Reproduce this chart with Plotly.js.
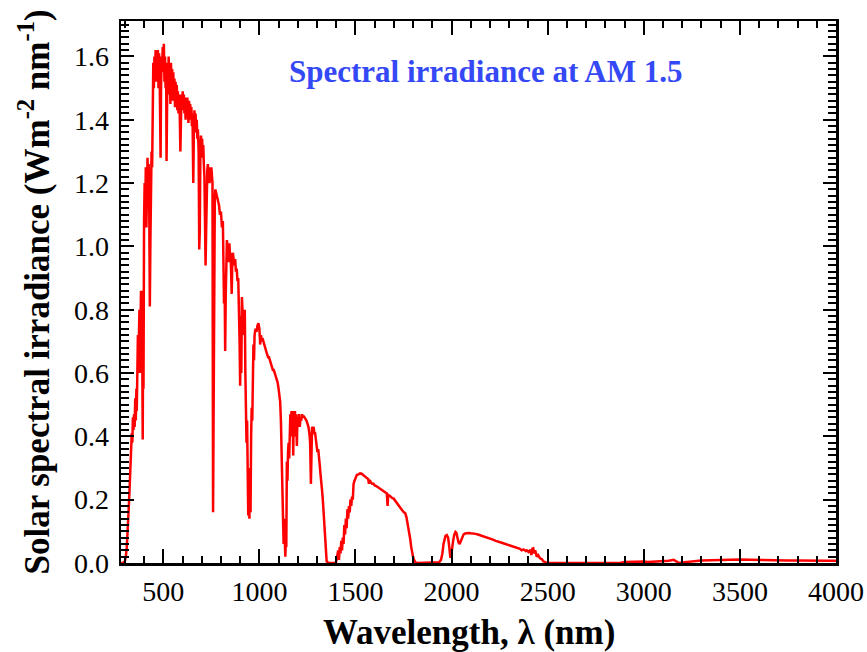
<!DOCTYPE html>
<html>
<head>
<meta charset="utf-8">
<script src="https://cdn.plot.ly/plotly-3.0.1.min.js"></script>
<style>html,body{margin:0;padding:0;background:#fff;}#chart{width:867px;height:652px;}</style>
</head>
<body>
<div id="chart"></div>
<script>
// Wavelength (nm)
const wavelength = [
280,290,300,305,310,315,320,325,330,333,336,339,342,345,348,351,354,357,360,362,364,366,368,370,372,374,376,378,380,382,384,386,388,390,393,395,397,
400,403,406,409,412,415,418,421,424,427,430,433,436,439,442,445,448,451,454,457,460,463,466,469,472,475,478,481,484,486,488,491,494,497,
500,503,506,509,512,515,517,519,522,525,528,531,534,537,540,543,546,549,552,555,558,561,564,567,570,573,576,579,582,585,589,592,595,598,
601,604,607,610,613,616,619,622,625,628,631,634,637,640,643,646,649,652,656,659,662,665,668,671,674,677,680,684,687,690,693,696,699,
702,705,708,711,714,717,720,723,726,729,732,735,738,741,744,747,750,753,756,759,762,765,768,771,775,780,785,790,795,
800,805,810,813,816,819,822,825,828,831,835,838,841,844,847,850,853,856,859,862,866,870,874,878,882,886,890,894,897,
900,903,906,909,912,915,918,921,924,927,930,933,936,939,942,945,948,951,954,957,960,963,966,969,972,975,980,985,990,995,
1000,1004,1008,1012,1016,1020,1025,1030,1035,1040,1045,1050,1055,1060,1065,1070,1075,1080,1085,1090,1095,
1100,1104,1108,1112,1116,1120,1123,1126,1129,1132,1135,1138,1140,1143,1146,1149,1152,1155,1158,1161,1164,1167,1170,1173,1176,1179,1182,1185,1188,1191,1195,1198,
1202,1206,1210,1214,1218,1222,1226,1230,1235,1240,1245,1250,1255,1260,1264,1268,1271,1274,1278,1282,1286,1290,1294,1298,
1302,1306,1310,1314,1318,1322,1326,1330,1334,1338,1342,1346,1350,1360,1380,1395,
1400,1405,1410,1414,1418,1422,1426,1430,1434,1438,1442,1446,1450,1454,1458,1462,1466,1470,1474,1478,1482,1486,1490,1495,
1500,1507,1515,1524,1532,1540,1550,1558,1566,1570,1574,1580,1587,1594,
1600,1608,1615,1622,1628,1635,1642,1650,1656,1663,1667,1670,1678,1685,1692,1698,
1705,1712,1720,1727,1733,1740,1746,1752,1759,1765,1770,1776,1781,1785,1790,1795,
1800,1806,1812,1820,1850,1880,1910,1935,1945,1952,1958,1963,1968,1975,1982,1988,1993,1997,
2002,2008,2014,2020,2025,2030,2036,2042,2048,2055,2062,2070,2078,2090,
2100,2113,2125,2137,2148,2160,2175,2190,2200,2215,2230,2245,2252,2265,2280,2295,
2304,2318,2330,2340,2356,2365,2375,2385,2391,2400,2410,2415,2420,2425,2430,2435,2443,2450,2460,2470,2478,2490,
2500,2600,2700,2800,2880,2900,2950,3000,3020,3060,3100,3130,3155,3170,3185,3200,3230,3270,
3300,3350,3415,3460,3502,3550,3600,3650,3700,3750,3800,3850,3900,3950,4000
];

// Spectral irradiance (W m^-2 nm^-1)
const irradiance = [
0,0,0.005,0.02,0.05,0.10,0.17,0.24,0.31,0.36,0.41,0.38,0.46,0.42,0.47,0.43,0.52,0.45,0.55,0.48,0.58,0.50,0.72,0.62,0.78,0.66,0.80,0.60,0.84,0.70,0.86,0.78,0.86,0.74,0.39,0.70,0.55,
1.08,1.20,1.10,1.25,1.06,1.22,1.28,1.15,1.26,1.12,0.81,1.02,1.22,1.30,1.25,1.45,1.58,1.50,1.60,1.55,1.62,1.52,1.60,1.56,1.62,1.50,1.61,1.55,1.45,1.28,1.48,1.60,1.55,1.63,
1.58,1.64,1.52,1.60,1.50,1.57,1.27,1.40,1.58,1.50,1.60,1.48,1.56,1.45,1.58,1.50,1.56,1.46,1.55,1.47,1.53,1.44,1.52,1.46,1.51,1.43,1.49,1.42,1.48,1.44,1.30,1.40,1.48,1.44,
1.49,1.43,1.48,1.42,1.47,1.40,1.46,1.41,1.47,1.43,1.39,1.46,1.42,1.45,1.40,1.44,1.38,1.42,1.20,1.36,1.43,1.38,1.42,1.36,1.40,1.34,1.37,1.30,0.99,1.05,1.30,1.35,1.33,
1.34,1.28,1.32,1.26,1.22,1.08,0.94,1.05,1.18,1.24,1.26,1.22,1.25,1.20,1.24,1.22,1.25,1.23,1.20,0.16,0.50,0.95,1.15,1.18,1.17,1.16,1.15,1.13,1.10,
1.11,1.06,1.08,0.95,0.82,0.90,0.67,0.85,0.98,1.02,0.99,1.01,0.95,1.01,0.97,0.98,0.92,0.85,0.95,0.98,0.96,0.94,0.96,0.92,0.93,0.89,0.90,0.82,0.70,
0.56,0.78,0.60,0.84,0.80,0.72,0.79,0.72,0.80,0.60,0.47,0.38,0.45,0.20,0.15,0.30,0.14,0.25,0.16,0.40,0.49,0.45,0.63,0.69,0.64,0.72,0.74,0.73,0.75,0.757,
0.74,0.69,0.72,0.70,0.71,0.70,0.69,0.68,0.67,0.66,0.65,0.65,0.64,0.63,0.62,0.61,0.61,0.60,0.59,0.58,0.57,
0.55,0.53,0.51,0.45,0.33,0.20,0.10,0.06,0.14,0.04,0.02,0.08,0.05,0.32,0.26,0.35,0.38,0.33,0.44,0.47,0.40,0.48,0.42,0.48,0.34,0.48,0.44,0.48,0.40,0.47,0.37,0.46,
0.44,0.47,0.43,0.46,0.45,0.47,0.46,0.465,0.46,0.455,0.45,0.44,0.43,0.41,0.38,0.25,0.38,0.43,0.42,0.43,0.41,0.41,0.39,0.37,
0.35,0.36,0.32,0.31,0.28,0.26,0.23,0.20,0.16,0.12,0.08,0.03,0.005,0,0,0,
0.005,0.02,0.04,0.01,0.05,0.03,0.07,0.04,0.08,0.06,0.12,0.09,0.14,0.11,0.17,0.14,0.18,0.16,0.20,0.18,0.21,0.20,0.25,0.26,
0.27,0.278,0.28,0.283,0.282,0.278,0.273,0.27,0.265,0.25,0.262,0.255,0.25,0.25,
0.245,0.243,0.24,0.238,0.236,0.232,0.23,0.226,0.222,0.22,0.18,0.215,0.212,0.208,0.205,0.204,
0.198,0.19,0.183,0.177,0.172,0.168,0.164,0.16,0.157,0.145,0.13,0.104,0.09,0.075,0.05,0.03,
0.018,0.008,0.002,0,0,0,0,0.002,0.01,0.03,0.06,0.08,0.085,0.088,0.08,0.05,0.02,0.02,
0.05,0.07,0.09,0.098,0.095,0.08,0.065,0.06,0.07,0.082,0.09,0.093,0.094,0.095,
0.094,0.094,0.092,0.09,0.088,0.086,0.082,0.079,0.077,0.074,0.07,0.068,0.066,0.063,0.06,0.057,
0.055,0.052,0.05,0.048,0.045,0.04,0.043,0.038,0.04,0.035,0.042,0.025,0.045,0.046,0.03,0.04,0.02,0.025,0.015,0.012,0.005,0.002,
0,0,0,0,0.001,0.003,0.004,0.005,0.003,0.004,0.005,0.007,0.01,0.005,0,0.002,0.004,0.005,
0.008,0.009,0.01,0.011,0.011,0.01,0.009,0.009,0.008,0.008,0.008,0.007,0.007,0.007,0.007
];

const xTickVals = [500,1000,1500,2000,2500,3000,3500,4000];
const yTickVals = [0,0.2,0.4,0.6,0.8,1.0,1.2,1.4,1.6];
const yTickText = ['0.0','0.2','0.4','0.6','0.8','1.0','1.2','1.4','1.6'];

const serif = 'Liberation Serif, Times New Roman, serif';

const trace = {
  x: wavelength,
  y: irradiance,
  type: 'scatter',
  mode: 'lines',
  line: {color: '#ff0000', width: 2.5},
  hoverinfo: 'x+y'
};

const layout = {
  width: 867,
  height: 652,
  margin: {l: 121, r: 31, t: 21, b: 89, pad: 0},
  paper_bgcolor: '#ffffff',
  plot_bgcolor: '#ffffff',
  showlegend: false,
  font: {family: serif, color: '#000', size: 27},
  xaxis: {
    range: [280, 4000],
    tickmode: 'array',
    tickvals: xTickVals,
    ticktext: xTickVals.map(String),
    ticks: 'inside',
    ticklen: 14,
    tickwidth: 2,
    tickcolor: '#000',
    minor: {dtick: 100, ticks: 'inside', ticklen: 7, tickwidth: 2, tickcolor: '#000', showgrid: false},
    showline: true,
    linecolor: '#000',
    linewidth: 2.5,
    mirror: 'ticks',
    showgrid: false,
    zeroline: false,
    tickfont: {family: serif, size: 28, color: '#000'},
    ticklabelstandoff: 2
  },
  yaxis: {
    range: [0, 1.712],
    tickmode: 'array',
    tickvals: yTickVals,
    ticktext: yTickText,
    ticks: 'inside',
    ticklen: 13,
    tickwidth: 2,
    tickcolor: '#000',
    minor: {dtick: 0.02, tick0: 0, ticks: 'inside', ticklen: 8, tickwidth: 2, tickcolor: '#000', showgrid: false},
    showline: true,
    linecolor: '#000',
    linewidth: 2.5,
    mirror: 'ticks',
    showgrid: false,
    zeroline: false,
    tickfont: {family: serif, size: 28, color: '#000'},
    ticklabelstandoff: 4,
    title: {text: 'Solar spectral irradiance (Wm<sup>-2</sup> nm<sup>-1</sup>)', font: {family: serif, size: 35, color: '#000', weight: 'bold'}, standoff: 14}
  },
  annotations: [{
    text: 'Spectral irradiance at AM 1.5',
    xref: 'paper', yref: 'paper',
    x: 0.51, y: 0.906,
    xanchor: 'center', yanchor: 'middle',
    showarrow: false,
    font: {family: serif, size: 31, color: '#3548f5', weight: 'bold'}
  }, {
    text: 'Wavelength, λ (nm)',
    xref: 'paper', yref: 'paper',
    x: 0.487, y: -0.128,
    xanchor: 'center', yanchor: 'middle',
    showarrow: false,
    font: {family: serif, size: 35, color: '#000', weight: 'bold'}
  }]
};

Plotly.newPlot('chart', [trace], layout, {displayModeBar: false, staticPlot: true});
</script>
</body>
</html>
